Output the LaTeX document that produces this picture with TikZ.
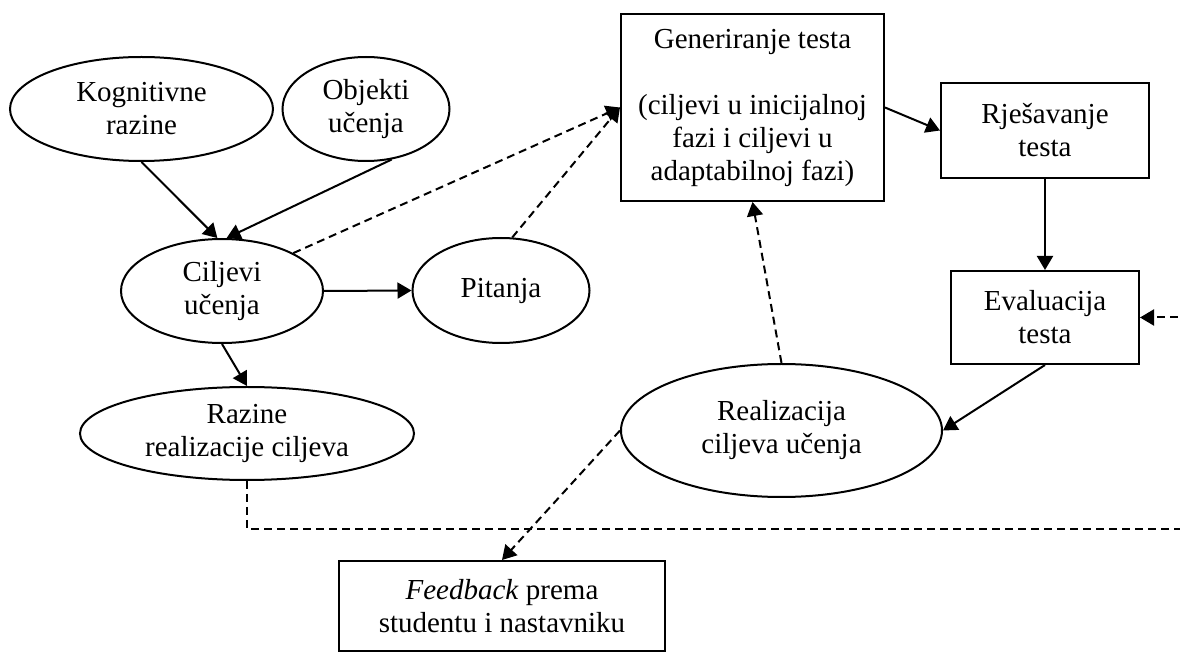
\documentclass[tikz,border=0pt]{standalone}
\usepackage{fontspec}
\setmainfont{Liberation Serif}
\usetikzlibrary{arrows.meta,shapes.geometric}
\tikzset{
  lcnode/.style={draw=black, line width=1pt, align=center, inner sep=0pt},
  lcgoal/.style={lcnode, ellipse},
  lcstep/.style={lcnode, rectangle},
  lcedge/.style={-{Triangle[length=7pt,width=8pt]}, line width=1pt},
  lcfeed/.style={lcedge, dash pattern=on 4pt off 2.5pt}
}
\begin{document}
\begin{tikzpicture}[x=0.5pt,y=-0.5pt,font=\fontsize{14.5pt}{16.5pt}\selectfont]
  \clip (0,0) rectangle (1180,652);
  \useasboundingbox (0,0) rectangle (1180,652);
  % goals side (ellipses)
  \node[lcgoal,minimum width=131.5pt,minimum height=52pt] (kognitivne) at (141.5,109) {Kognitivne\\razine};
  \node[lcgoal,minimum width=83.5pt,minimum height=52pt] (objekti) at (366,109) {Objekti\\u\v{c}enja};
  \node[lcgoal,minimum width=101pt,minimum height=52pt] (ciljevi) at (222,291) {Ciljevi\\u\v{c}enja};
  \node[lcgoal,minimum width=88.5pt,minimum height=52.5pt] (pitanja) at (501,290.5) {Pitanja};
  \node[lcgoal,minimum width=167pt,minimum height=46.5pt] (razine) at (247,433.5) {Razine\\realizacije ciljeva};
  \node[lcgoal,minimum width=160.5pt,minimum height=66.5pt] (realizacija) at (781.5,430.5) {Realizacija\\ciljeva u\v{c}enja};
  % test side (boxes)
  \node[lcstep,minimum width=131.5pt,minimum height=93.5pt] (generiranje) at (752.5,107.5) {Generiranje testa\\[16.5pt](ciljevi u inicijalnoj\\fazi i ciljevi u\\adaptabilnoj fazi)};
  \node[lcstep,minimum width=104pt,minimum height=47.5pt] (rjesavanje) at (1045,130.5) {Rje\v{s}avanje\\testa};
  \node[lcstep,minimum width=94pt,minimum height=46.5pt] (evaluacija) at (1045,317.5) {Evaluacija\\testa};
  \node[lcstep,minimum width=163pt,minimum height=45pt] (feedback) at (502,606) {\textit{Feedback} prema\\studentu i nastavniku};
  \coordinate (rimturn) at (1200,529);
  % solid connectors
  \draw[lcedge] (kognitivne.south) -- (ciljevi.95);
  \draw[lcedge] (objekti.-63) -- (ciljevi.85);
  \draw[lcedge] (ciljevi.east) -- (pitanja.west);
  \draw[lcedge] (ciljevi.south) -- (razine.north);
  \draw[lcedge] (generiranje.east) -- (rjesavanje.west);
  \draw[lcedge] (rjesavanje.south) -- (evaluacija.north);
  \draw[lcedge] (evaluacija.south) -- (realizacija.east);
  % dashed connectors
  \draw[lcfeed] (ciljevi.28) -- (generiranje.west);
  \draw[lcfeed] (pitanja.78) -- (generiranje.west);
  \draw[lcfeed] (realizacija.north) -- (generiranje.south);
  \draw[lcfeed] (realizacija.west) -- (feedback.north);
  \draw[lcfeed] (razine.south) |- (rimturn) |- (evaluacija.east);
\end{tikzpicture}
\end{document}
